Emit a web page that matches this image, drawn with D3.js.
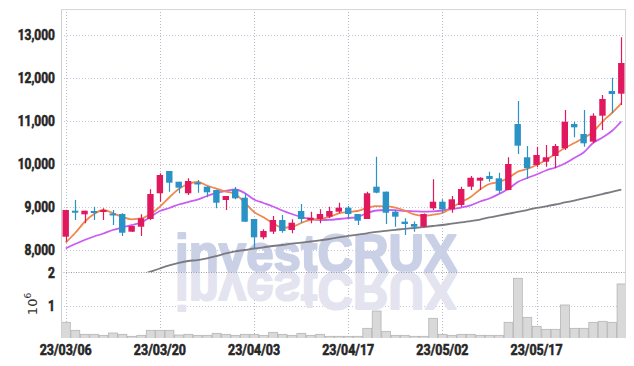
<!DOCTYPE html>
<html><head><meta charset="utf-8">
<script src="https://cdn.jsdelivr.net/npm/d3@7"></script>
<style>body{margin:0;background:#fff}svg{display:block}</style>
</head><body>
<svg id="c" width="634" height="366"></svg>
<script>
const dates = ["23/03/06","23/03/07","23/03/08","23/03/09","23/03/10","23/03/13","23/03/14","23/03/15","23/03/16","23/03/17",
"23/03/20","23/03/21","23/03/22","23/03/23","23/03/24","23/03/27","23/03/28","23/03/29","23/03/30","23/03/31",
"23/04/03","23/04/04","23/04/05","23/04/06","23/04/07","23/04/10","23/04/11","23/04/12","23/04/13","23/04/14",
"23/04/17","23/04/18","23/04/19","23/04/20","23/04/21","23/04/24","23/04/25","23/04/26","23/04/27","23/04/28",
"23/05/02","23/05/03","23/05/04","23/05/08","23/05/09","23/05/10","23/05/11","23/05/12","23/05/15","23/05/16",
"23/05/17","23/05/18","23/05/19","23/05/22","23/05/23","23/05/24","23/05/25","23/05/26","23/05/30","23/05/31"];
const open  = [8309,8914,8830,8907,8900,8850,8837,8426,8542,8721, 9319,9837,9588,9319,9570,9472,9395,9163,9412,9216,
               8721,8295,8426,8698,8465,8907,8698,8721,8775,8891, 8984,8837,8721,9472,9356,8891,8660,8605,8542,8970,
               9123,8946,9047,9472,9612,9721,9667,9395,10930,10156, 9977,10053,10186,10365,10930,10698,10519,11123,11698,11635];
const high  = [8935,9163,8914,9007,8970,8930,8853,8560,8830,9412, 9783,9837,9588,9667,9628,9480,9400,9256,9465,9319,
               8721,8481,8791,8814,8714,9070,8891,8946,9007,9100, 9023,8840,9356,10170,9360,8930,8737,8660,8850,9644,
               9179,9256,9472,9721,9690,9821,9798,10156,11465,10419, 10402,10442,10465,11256,10984,11256,11180,11605,12007,12947];
const low   = [8193,8698,8621,8698,8698,8581,8326,8420,8326,8698, 9123,9356,9319,9279,9330,9226,8970,8930,9180,8650,
               8040,8249,8372,8402,8388,8635,8620,8620,8737,8853, 8737,8581,8720,9319,8605,8542,8349,8426,8530,8930,
               8867,8867,9007,9395,9395,9588,9319,9390,10233,9651, 9923,9937,9900,10326,10620,10402,10481,10791,11180,11372];
const close = [8930,8867,8914,8884,8930,8826,8402,8558,8737,9302, 9744,9565,9449,9605,9550,9342,9100,9256,9202,8658,
               8295,8442,8698,8442,8635,8721,8752,8837,8907,8984, 8837,8682,9319,9333,8867,8775,8605,8542,8837,9123,
               8946,9179,9419,9681,9681,9651,9379,10000,10426,9900, 10209,10156,10419,10984,10853,10481,11123,11512,11628,12349];
const volume = [0.50,0.26,0.14,0.14,0.11,0.18,0.14,0.08,0.11,0.26, 0.26,0.26,0.12,0.14,0.11,0.11,0.17,0.14,0.11,0.14,
                0.14,0.11,0.20,0.14,0.11,0.17,0.11,0.14,0.08,0.08, 0.08,0.08,0.32,0.84,0.23,0.11,0.11,0.08,0.08,0.62,
                0.14,0.11,0.14,0.14,0.11,0.11,0.11,0.50,1.82,0.65, 0.38,0.29,0.29,1.02,0.32,0.32,0.50,0.53,0.50,1.65];
const ma5  = [8174,8395,8651,8837,8930,8860,8767,8714,8733,8837, 9007,9221,9419,9535,9581,9500,9426,9360,9302,9105,
              8884,8760,8628,8519,8535,8628,8698,8721,8772,8849, 8884,8907,8977,9019,9016,8988,8919,8826,8795,8821,
              8860,8988,9116,9233,9407,9535,9581,9674,9821,9884, 9977,10093,10233,10372,10488,10605,10744,10988,11186,11412];
const ma20 = [8035,8140,8233,8314,8384,8465,8523,8581,8640,8767, 8907,8977,9058,9116,9174,9256,9326,9372,9407,9326,
              9174,9093,9012,8919,8837,8767,8721,8698,8702,8721, 8744,8767,8860,8919,8930,8926,8907,8900,8891,8900,
              8919,8953,8988,9040,9128,9198,9302,9419,9581,9674, 9756,9849,9919,10012,10140,10267,10488,10616,10767,10988];
const ma60 = [null,null,null,null,null,null,null,null,7419,7495, 7570,7640,7698,7744,7767,7807,7860,7919,7970,8000,
              8035,8063,8093,8116,8147,8170,8198,8226,8256,8295, 8326,8356,8388,8423,8447,8470,8493,8512,8535,8558,
              8581,8612,8640,8674,8709,8756,8802,8844,8884,8930, 8977,9016,9058,9105,9151,9198,9249,9302,9349,9402];
const priceTicks = [8000,9000,10000,11000,12000,13000];
const volTicks = [1,2];
const dateTicks = ["23/03/06","23/03/20","23/04/03","23/04/17","23/05/02","23/05/17"];

const svg = d3.select("#c");
const L = 61, R = 626, T = 9, MID = 272.3, B = 338;
const x = d3.scaleBand().domain(dates).range([L, R]).padding(0);
const cx = d => x(d) + x.bandwidth()/2;
const y = d3.scaleLinear().domain([8000, 13000]).range([250, 35]);
const yv = d3.scaleLinear().domain([0, 2]).range([339, MID]);

const defs = svg.append("defs");
defs.append("clipPath").attr("id","cp").append("rect").attr("x",L).attr("y",T).attr("width",R-L).attr("height",MID-T);
defs.append("clipPath").attr("id","cv").append("rect").attr("x",L).attr("y",MID).attr("width",R-L).attr("height",B-MID);

const font = "Roboto,'Liberation Sans',sans-serif";

// grid
const g = svg.append("g");
g.selectAll("line.hp").data(priceTicks).join("line")
  .attr("x1",L).attr("x2",R).attr("y1",d=>Math.round(y(d))+0.5).attr("y2",d=>Math.round(y(d))+0.5)
  .attr("stroke","#c3c8de").attr("stroke-dasharray","1,2");
g.selectAll("line.hv").data([1]).join("line")
  .attr("x1",L).attr("x2",R).attr("y1",d=>Math.round(yv(d))+0.5).attr("y2",d=>Math.round(yv(d))+0.5)
  .attr("stroke","#c3c8de").attr("stroke-dasharray","1,2");
g.selectAll("line.vx").data(dateTicks).join("line")
  .attr("x1",d=>Math.round(cx(d))+0.5).attr("x2",d=>Math.round(cx(d))+0.5).attr("y1",T).attr("y2",B)
  .attr("stroke","#b8b8c4").attr("stroke-dasharray","1,2");

// watermark (text + mirrored reflection)
const wm = svg.append("g");
wm.append("text").attr("x",175).attr("y",MID-1).text("investCRUX")
  .attr("font-family","'Liberation Sans',Arial,sans-serif").attr("font-weight","bold").attr("font-size",52)
  .attr("textLength",282).attr("lengthAdjust","spacingAndGlyphs").attr("fill","#cad0e6")
  .attr("stroke","#cad0e6").attr("stroke-width",2).attr("stroke-linejoin","round");
wm.append("g").attr("transform",`translate(0,${2*MID}) scale(1,-1)`)
  .append("text").attr("x",175).attr("y",MID-1).text("investCRUX")
  .attr("font-family","'Liberation Sans',Arial,sans-serif").attr("font-weight","bold").attr("font-size",52)
  .attr("textLength",282).attr("lengthAdjust","spacingAndGlyphs").attr("fill","#e3e4f0")
  .attr("stroke","#e3e4f0").attr("stroke-width",2).attr("stroke-linejoin","round");

// volume
svg.append("g").attr("clip-path","url(#cv)").selectAll("rect").data(dates).join("rect")
  .attr("x",d=>x(d)+0.5).attr("width",x.bandwidth()-0.6)
  .attr("y",(d,i)=>yv(volume[i])).attr("height",(d,i)=>yv(0)-yv(volume[i]))
  .attr("fill","#d9d9d9").attr("stroke","#b5b5b5").attr("stroke-width",0.8);

// boundary line
svg.append("line").attr("x1",L).attr("x2",R).attr("y1",Math.round(MID)+0.5).attr("y2",Math.round(MID)+0.5)
  .attr("stroke","#9a9aa6").attr("stroke-dasharray","1,1.5");

// price panel
const pg = svg.append("g").attr("clip-path","url(#cp)");
const up = "#e0195f", dn = "#2b92c6";
const line = arr => d3.line().defined((d,i)=>arr[i]!=null).x(d=>cx(d)).y((d,i)=>y(arr[i])).curve(d3.curveMonotoneX)(dates);
pg.append("path").attr("d",line(ma60)).attr("fill","none").attr("stroke","#7a7a80").attr("stroke-width",1.8);
pg.append("path").attr("d",line(ma20)).attr("fill","none").attr("stroke","#c95cf2").attr("stroke-width",1.8);
pg.append("path").attr("d",line(ma5)).attr("fill","none").attr("stroke","#f0874c").attr("stroke-width",1.8);

const cw = 6.4;
const cg = pg.selectAll("g.c").data(dates).join("g");
cg.append("line").attr("x1",d=>Math.round(cx(d))+0.5).attr("x2",d=>Math.round(cx(d))+0.5)
  .attr("y1",(d,i)=>y(high[i])).attr("y2",(d,i)=>y(low[i]))
  .attr("stroke",(d,i)=>close[i]>=open[i]?up:dn).attr("stroke-width",1.2);
cg.append("rect").attr("x",d=>cx(d)-cw/2).attr("width",cw)
  .attr("y",(d,i)=>y(Math.max(open[i],close[i])))
  .attr("height",(d,i)=>Math.max(2,Math.abs(y(open[i])-y(close[i]))))
  .attr("fill",(d,i)=>close[i]>=open[i]?up:dn);

// frame
svg.append("line").attr("x1",L+0.5).attr("x2",L+0.5).attr("y1",T).attr("y2",B).attr("stroke","#cfcfd6");
svg.append("line").attr("x1",L).attr("x2",R).attr("y1",T+0.5).attr("y2",T+0.5).attr("stroke","#d6d6dc");
svg.append("line").attr("x1",R-0.5).attr("x2",R-0.5).attr("y1",T).attr("y2",B).attr("stroke","#d6d6dc");

// labels (condensed, heavy look)
const fmt = d3.format(",");
const lab = sel => sel.attr("font-family",font).attr("font-weight","bold").attr("font-size",15)
  .attr("fill","#262626").attr("stroke","#262626").attr("stroke-width",0.6);
lab(svg.append("g").selectAll("text").data(priceTicks).join("text")
  .attr("transform",d=>`translate(55,${y(d)}) scale(0.8,1)`).attr("dy","0.36em").attr("text-anchor","end")
  .text(d=>fmt(d)));
lab(svg.append("g").selectAll("text").data(volTicks).join("text")
  .attr("transform",d=>`translate(55,${yv(d)}) scale(0.8,1)`).attr("dy","0.36em").attr("text-anchor","end")
  .text(d=>d));
const vl = svg.append("text").attr("transform","translate(37,304) rotate(-90)").attr("text-anchor","middle")
  .attr("font-family","'DejaVu Sans',sans-serif").attr("font-size",13).attr("fill","#333");
vl.append("tspan").text("10");
vl.append("tspan").attr("dy",-6).attr("font-size",9).text("6");
lab(svg.append("g").selectAll("text").data(dateTicks).join("text")
  .attr("transform",d=>`translate(${cx(d)},355) scale(0.83,1)`).attr("text-anchor","middle")
  .text(d=>d));
</script>
</body></html>
